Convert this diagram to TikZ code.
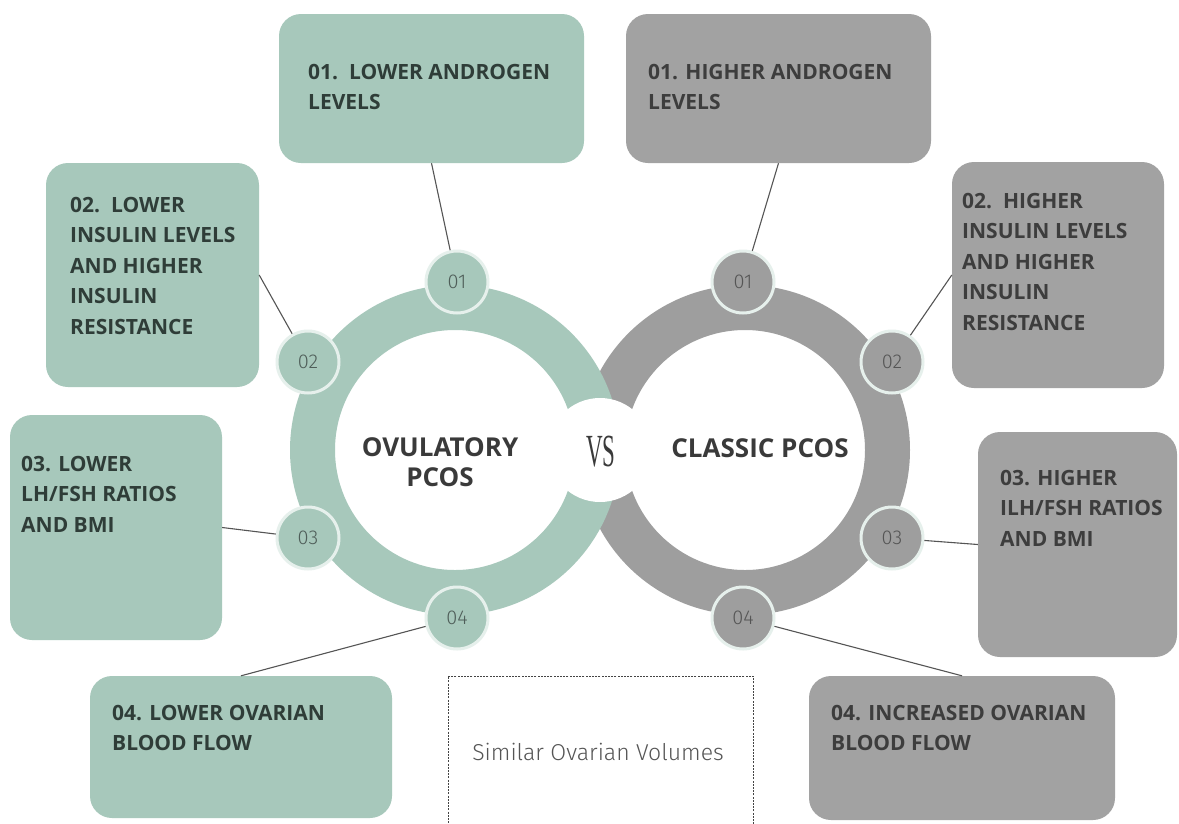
\documentclass[tikz,border=0pt]{standalone}
\usepackage{fontspec}
\usepackage{graphicx}
\setmainfont{Open Sans}
\newfontfamily\lightf{Fira Sans Light}
\newfontfamily\vsf{Liberation Serif}
\definecolor{gfill}{HTML}{A7C8BB}
\definecolor{rfill}{HTML}{A2A2A2}
\definecolor{ringg}{HTML}{A7C8BB}
\definecolor{ringr}{HTML}{9E9E9E}
\definecolor{cborder}{HTML}{E6F0EC}
\definecolor{gtext}{HTML}{2F3D38}
\definecolor{rtext}{HTML}{3D3D3D}
\definecolor{ttext}{HTML}{3A3A3A}
\definecolor{ntext}{HTML}{4F5E59}
\definecolor{ltext}{HTML}{555555}
\tikzset{
  gbox/.style={rectangle, rounded corners=22pt, fill=gfill, inner sep=0pt},
  rbox/.style={rectangle, rounded corners=22pt, fill=rfill, inner sep=0pt},
  btext/.style={anchor=north west, inner sep=0pt, align=left, font=\fontsize{21}{30.5}\selectfont\bfseries},
  gnum/.style={circle, minimum size=62pt, inner sep=0pt, fill=ringg, draw=cborder, line width=3pt, text=ntext, font=\lightf\fontsize{20}{20}\selectfont},
  rnum/.style={circle, minimum size=62pt, inner sep=0pt, fill=ringr, draw=cborder, line width=3pt, text=ltext, font=\lightf\fontsize{20}{20}\selectfont},
  link/.style={draw=ltext, line width=1.1pt},
  title/.style={align=center, text=ttext, font=\fontsize{26}{30}\selectfont\bfseries}
}
\begin{document}
\begin{tikzpicture}[x=1pt,y=-1pt]
\useasboundingbox (0,0) rectangle (1179,823);
\fill[white] (0,0) rectangle (1179,823);
% rings
\fill[ringr, even odd rule] (745,450) circle (165) (745,450) circle (120);
\fill[ringg, even odd rule] (455,450) circle (165) (455,450) circle (120);
\node[circle, fill=white, minimum size=104pt, inner sep=0pt] (vs) at (600,450) {};
\node[text=ttext, inner sep=0pt] (vst) at (601,452) {\scalebox{0.5}[1]{\vsf\fontsize{46}{46}\selectfont VS}};
% titles
\node[title] (tl) at (440,462) {OVULATORY\\PCOS};
\node[title] (tr) at (760,448) {CLASSIC PCOS};
% small circles
\node[gnum] (g1) at (457,282) {01};
\node[gnum] (g2) at (308,362) {02};
\node[gnum] (g3) at (308,538) {03};
\node[gnum] (g4) at (457,618) {04};
\node[rnum] (r1) at (743,282) {01};
\node[rnum] (r2) at (892,362) {02};
\node[rnum] (r3) at (892,538) {03};
\node[rnum] (r4) at (743,618) {04};
% boxes
\node[gbox, minimum width=305pt, minimum height=149pt] (G1) at (431.5,88.5) {};
\node[gbox, minimum width=213pt, minimum height=224pt] (G2) at (152.5,275) {};
\node[gbox, minimum width=212pt, minimum height=225pt] (G3) at (116,527.5) {};
\node[gbox, minimum width=302pt, minimum height=142pt] (G4) at (241,747) {};
\node[rbox, minimum width=305pt, minimum height=149pt] (R1) at (778.5,88.5) {};
\node[rbox, minimum width=212pt, minimum height=226pt] (R2) at (1058,275) {};
\node[rbox, minimum width=199pt, minimum height=225pt] (R3) at (1077.5,544.5) {};
\node[rbox, minimum width=306pt, minimum height=144pt] (R4) at (962,748) {};
\node[draw=ltext!80!black, line width=0.9pt, dash pattern=on 2pt off 1.2pt, minimum width=305pt, minimum height=160pt, inner sep=0pt] (S) at (600.5,756) {};
\node[text=ltext, font=\lightf\fontsize{23}{23}\selectfont] (St) at (598,752) {Similar Ovarian Volumes};
% connectors
\draw[link] (G1.south) -- (g1);
\draw[link] (G2.east) -- (g2);
\draw[link] (G3.east) -- (g3);
\draw[link] (G4.north) -- (g4);
\draw[link] (R1.south) -- (r1);
\draw[link] (R2.west) -- (r2);
\draw[link] (R3.west) -- (r3);
\draw[link] (R4.north) -- (r4);
% box texts
\node[btext, text=gtext] (G1t) at (308,64) {01.\ \ LOWER ANDROGEN\\LEVELS};
\node[btext, text=gtext] (G2t) at (70,197) {02.\ \ LOWER\\INSULIN LEVELS\\AND HIGHER\\INSULIN\\RESISTANCE};
\node[btext, text=gtext] (G3t) at (21,456) {03. LOWER\\LH/FSH RATIOS\\AND BMI};
\node[btext, text=gtext] (G4t) at (112,705) {04. LOWER OVARIAN\\BLOOD FLOW};
\node[btext, text=rtext] (R1t) at (648,64) {01. HIGHER ANDROGEN\\LEVELS};
\node[btext, text=rtext] (R2t) at (962,193) {02.\ \ HIGHER\\INSULIN LEVELS\\AND HIGHER\\INSULIN\\RESISTANCE};
\node[btext, text=rtext] (R3t) at (1000,470) {03. HIGHER\\ILH/FSH RATIOS\\AND BMI};
\node[btext, text=rtext] (R4t) at (831,705) {04. INCREASED OVARIAN\\BLOOD FLOW};
\end{tikzpicture}
\end{document}
